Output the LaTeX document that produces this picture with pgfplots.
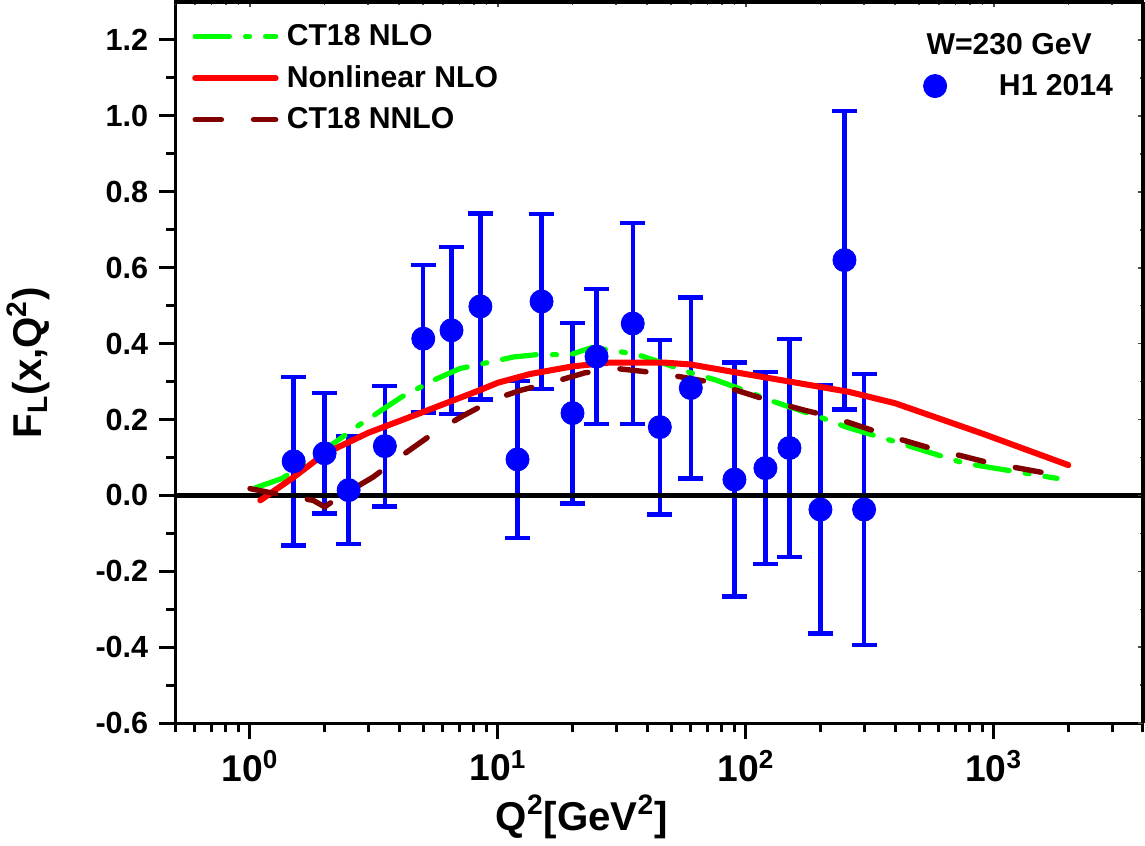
\documentclass[border=0pt]{standalone}
\usepackage{pgfplots}
\pgfplotsset{compat=1.18}
\usepackage{fontspec}
\setmainfont{Liberation Sans}
\definecolor{ctgreen}{RGB}{0,255,0}
\definecolor{ctdark}{RGB}{128,0,0}

% H1 2014 data: Q2, F_L, error
\pgfplotstableread{
x y e
1.5 0.090 0.222
2.0 0.111 0.159
2.5 0.014 0.142
3.5 0.130 0.159
5.0 0.413 0.194
6.5 0.435 0.220
8.5 0.498 0.245
12 0.095 0.207
15 0.511 0.231
20 0.217 0.238
25 0.366 0.178
35 0.453 0.265
45 0.180 0.230
60 0.283 0.238
90 0.042 0.308
120 0.072 0.253
150 0.125 0.287
200 -0.037 0.327
250 0.620 0.393
300 -0.037 0.357
}\hone

\begin{document}
\begin{tikzpicture}
\begin{axis}[
  scale only axis, width=481pt, height=358.5pt,
  xmode=log, xmin=0.5, xmax=4000,
  ymin=-0.6, ymax=1.3,
  axis line style={line width=1.5pt},
  xtick={1,10,100,1000},
  xticklabels={10\textsuperscript{0},10\textsuperscript{1},10\textsuperscript{2},10\textsuperscript{3}},
  minor xtick={0.5,0.6,0.7,0.8,0.9,2,3,4,5,6,7,8,9,20,30,40,50,60,70,80,90,200,300,400,500,600,700,800,900,2000,3000,4000},
  ytick={-0.6,-0.4,-0.2,0,0.2,0.4,0.6,0.8,1.0,1.2},
  minor ytick={-0.5,-0.3,-0.1,0.1,0.3,0.5,0.7,0.9,1.1},
  xtick pos=bottom, ytick pos=left,
  tick align=outside,
  major tick length=8pt, minor tick length=4.5pt,
  every tick/.style={black, line width=1.5pt},
  /pgf/number format/assume math mode=true,
  yticklabel={\pgfmathprintnumber[fixed,fixed zerofill,precision=1]{\tick}},
  yticklabel style={font=\bfseries\fontsize{15.2}{16}\selectfont, xshift=-2pt},
  xticklabel style={font=\bfseries\fontsize{18.5}{20}\selectfont, yshift=-2pt},
  xlabel={Q\textsuperscript{2}[GeV\textsuperscript{2}]},
  ylabel={F\textsubscript{L}(x,Q\textsuperscript{2})},
  xlabel style={font=\bfseries\fontsize{20}{22}\selectfont, at={(axis description cs:0.42,-0.09)}, anchor=north},
  ylabel style={font=\bfseries\fontsize{20}{22}\selectfont, at={(axis description cs:-0.152,0.5)}, anchor=center},
  legend style={at={(axis description cs:0.017,0.975)}, anchor=north west, draw=none, fill=none,
    font=\bfseries\fontsize{15}{17}\selectfont, inner sep=0pt, row sep=4.5pt,
    nodes={inner xsep=4pt}},
  legend cell align=left,
  legend image code/.code={\draw[#1] (0pt,0pt) -- (40pt,0pt);},
]
\addplot[blue, only marks, mark=*, mark size=5.75pt, forget plot,
  error bars/.cd, y dir=both, y explicit, error mark=|,
  error bar style={line width=2.2pt, blue},
  error mark options={line width=2.2pt, mark size=6.25pt, blue}]
  table[x=x, y=y, y error=e]{\hone};
\addplot[black, line width=2.5pt, forget plot] coordinates {(0.5,0) (4000,0)};

\addplot[ctgreen, line width=2.6pt, line cap=round,
  dash pattern=on 17pt off 8pt on 2pt off 8pt] coordinates {
(1.05,0.02) (1.35,0.045) (2.0,0.12) (2.75,0.185) (4.1,0.26) (5.65,0.307) (7,0.334)
(11.6,0.365) (14.4,0.371) (19.6,0.371) (24,0.39) (29,0.382) (36.6,0.371)
(48.6,0.344) (60,0.323) (75,0.305) (93,0.283) (126,0.25) (155,0.23) (198,0.207)
(255,0.18) (418,0.138) (760,0.085) (1800,0.045)};
\addlegendentry{CT18 NLO}

\addplot[red, line width=3pt, line cap=round] coordinates {
(1.1,-0.013) (1.5,0.048) (2,0.11) (3,0.165) (5,0.22) (8.5,0.278) (10,0.297)
(13.5,0.32) (20,0.34) (28,0.35) (47,0.35) (60,0.345) (88,0.326) (160,0.297)
(260,0.273) (400,0.243) (900,0.163) (2000,0.08)};
\addlegendentry{Nonlinear NLO}

\addplot[ctdark, line width=2.7pt, line cap=round,
  dash pattern=on 13pt off 16pt] coordinates {
(1.0,0.018) (1.26,0.005) (1.8,-0.013) (2.0,-0.03) (2.28,-0.005) (3.13,0.048)
(4.0,0.1) (5.5,0.164) (7.1,0.207) (9.7,0.254) (12.5,0.278) (17.4,0.302)
(22.4,0.323) (30.5,0.334) (39.5,0.326) (54,0.313) (70,0.3) (96,0.273)
(124,0.25) (169,0.226) (222,0.207) (306,0.177) (390,0.154) (540,0.127)
(945,0.087) (2000,0.048)};
\addlegendentry{CT18 NNLO}
\end{axis}

\begin{axis}[
  scale only axis, width=481pt, height=358.5pt,
  xmode=log, xmin=0.5, xmax=4000,
  ymin=-0.6, ymax=1.3,
  axis x line*=top, axis y line*=right,
  axis line style={line width=1.5pt},
  xtick={1,10,100,1000},
  minor xtick={0.5,0.6,0.7,0.8,0.9,2,3,4,5,6,7,8,9,20,30,40,50,60,70,80,90,200,300,400,500,600,700,800,900,2000,3000,4000},
  ytick={-0.6,-0.4,-0.2,0,0.2,0.4,0.6,0.8,1.0,1.2},
  minor ytick={-0.5,-0.3,-0.1,0.1,0.3,0.5,0.7,0.9,1.1},
  tick align=inside, major tick length=2.5pt, minor tick length=1.5pt,
  every tick/.style={black!70, line width=0.8pt},
  xticklabels={}, yticklabels={},
  ticklabel style={inner sep=0pt, outer sep=0pt},
  legend style={at={(axis description cs:0.767,0.962)}, anchor=north west, draw=none, fill=none,
    font=\bfseries\fontsize{15}{17}\selectfont, inner sep=0pt, row sep=4pt},
  legend cell align=left,
]
\addlegendimage{empty legend}
\addlegendentry{\hspace{-12pt}W=230 GeV}
\addlegendimage{only marks, mark=*, blue, mark size=5.75pt}
\addlegendentry{\hspace{24pt}H1 2014}
\end{axis}
\end{tikzpicture}
\end{document}
